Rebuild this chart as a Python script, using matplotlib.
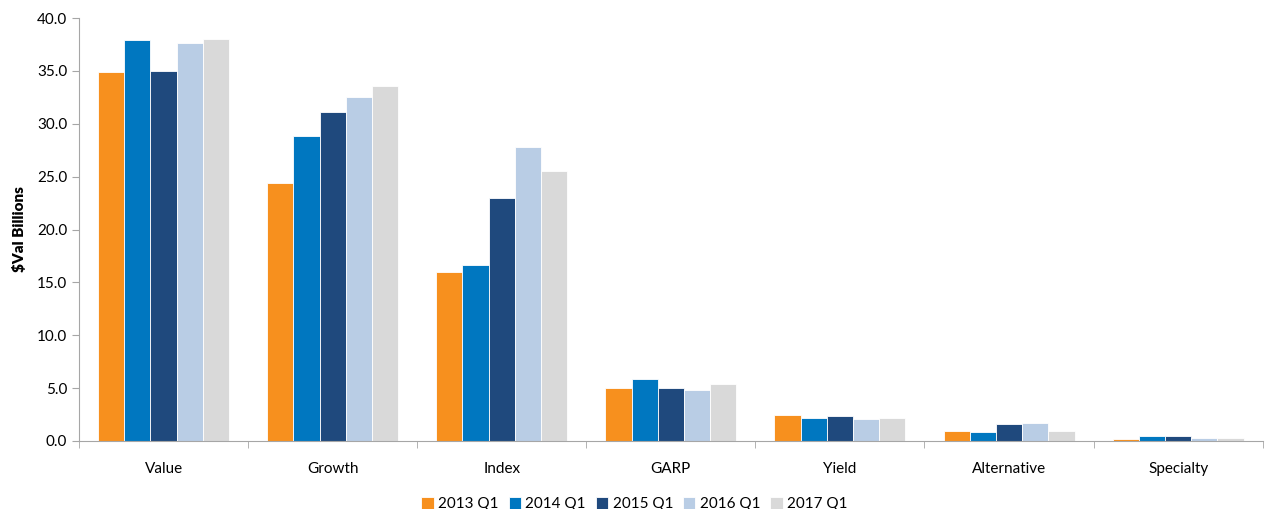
import matplotlib.pyplot as plt
import numpy as np

plt.rcParams['font.family'] = ['Lato', 'DejaVu Sans']

categories = ['Value', 'Growth', 'Index', 'GARP', 'Yield', 'Alternative', 'Specialty']
series = ['2013 Q1', '2014 Q1', '2015 Q1', '2016 Q1', '2017 Q1']
values = {
    '2013 Q1': [34.9, 24.4, 16.0, 5.0, 2.46, 0.95, 0.19],
    '2014 Q1': [37.9, 28.8, 16.6, 5.9, 2.2, 0.82, 0.44],
    '2015 Q1': [35.0, 31.1, 23.0, 5.0, 2.36, 1.58, 0.44],
    '2016 Q1': [37.6, 32.5, 27.8, 4.8, 2.08, 1.70, 0.28],
    '2017 Q1': [38.0, 33.6, 25.5, 5.4, 2.18, 0.95, 0.28],
}
colors = ['#F7901E', '#0077C0', '#1F497D', '#B9CDE5', '#D9D9D9']

fig = plt.figure(figsize=(12.69, 5.09), dpi=100)
ax = fig.add_axes([0.0623, 0.1336, 0.9327, 0.831])

x = np.arange(len(categories))
w = 0.155
for i, s in enumerate(series):
    ax.bar(x + (i - 2) * w, values[s], w, color=colors[i], label=s,
           edgecolor='white', linewidth=0.6)

ax.set_xlim(-0.5, len(categories) - 0.5)
ax.set_ylim(0, 40)
ax.set_yticks(np.arange(0, 40.1, 5))
ax.set_yticklabels([f'{v:.1f}' for v in np.arange(0, 40.1, 5)], fontsize=11)
ax.set_xticks(x)
ax.set_xticklabels(categories, fontsize=11)
ax.tick_params(axis='x', which='major', length=0, pad=15)
ax.set_xticks(np.arange(-0.5, len(categories), 1), minor=True)
ax.tick_params(axis='x', which='minor', length=5, color='#A6A6A6')
ax.tick_params(axis='y', length=5, color='#A6A6A6', direction='out')

for sp in ['top', 'right']:
    ax.spines[sp].set_visible(False)
for sp in ['left', 'bottom']:
    ax.spines[sp].set_color('#A6A6A6')

ax.set_ylabel('$Val Billions', fontsize=11, fontweight='heavy', labelpad=8)

fig.legend(loc='lower center', bbox_to_anchor=(0.5, -0.025), ncol=5, frameon=False,
           fontsize=11, handlelength=0.8, handleheight=0.8, handletextpad=0.3,
           columnspacing=0.65, borderpad=0.2)

fig.savefig('out.png', dpi=100)
